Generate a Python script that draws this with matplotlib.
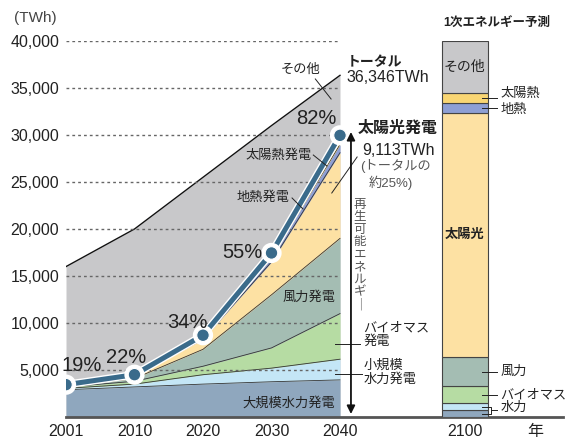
import numpy as np
import matplotlib.pyplot as plt
import matplotlib.patheffects as pe

plt.rcParams['font.family'] = ['Liberation Sans', 'Noto Sans CJK JP', 'DejaVu Sans']

years = ['2001', '2010', '2020', '2030', '2040']
total = [16000, 20000, 25500, 31000, 36346]

# generation by source, TWh
large_hydro = [2900, 3200, 3500, 3750, 3950]
small_hydro = [150, 300, 1000, 1450, 2200]
biomass = [150, 300, 900, 2150, 4850]
wind = [50, 300, 1800, 5650, 8000]
solar_pv = [30, 200, 1100, 3500, 9113]
geothermal = [80, 100, 200, 450, 900]
solar_thermal = [80, 100, 200, 500, 950]
renew_share = ['19%', '22%', '34%', '55%', '82%']

# 2100 primary energy mix, percent (bottom to top)
mix_names = ['水力(大)', '水力(小)', 'バイオマス', '風力', '太陽光', '地熱', '太陽熱', 'その他']
mix_share = [1.8, 1.8, 4.6, 7.8, 64.9, 2.5, 2.7, 13.9]

layers = [large_hydro, small_hydro, biomass, wind, solar_pv, geothermal, solar_thermal]
colors = ['#8fa7be', '#c4e6f6', '#b6dca3', '#a4bdb3', '#fde1a3', '#8e9fd4', '#f9d673']
c_other = '#c8c8ca'
c_line = '#3a6b8b'
ink = '#222222'

fig = plt.figure(figsize=(5.73, 4.44), dpi=100)
ax = fig.add_axes([66 / 573, 1 - 417 / 444, 497 / 573, 376 / 444])
x = np.arange(len(years))

ax.fill_between(x, 0, total, color=c_other, lw=0, zorder=1)
ax.plot(x, total, color='#111111', lw=1.0, zorder=4)
base = np.zeros(len(years))
for vals, col in zip(layers, colors):
    top = base + np.array(vals)
    ax.fill_between(x, base, top, color=col, lw=0, zorder=2)
    ax.plot(x, top, color='#333333', lw=0.6, zorder=3)
    base = top
renew = base

# dotted guide lines stop at 2040
for yv in range(5000, 40001, 5000):
    ax.plot([0, 4], [yv, yv], color='#666666', lw=1.0, ls=(0, (2, 2.2)), zorder=5)

ax.plot(x, renew, color=c_line, lw=3.6, marker='o', ms=9, mfc=c_line,
        mec='white', mew=0.8, zorder=7, solid_capstyle='round',
        path_effects=[pe.Stroke(linewidth=5.6, foreground='white'), pe.Normal()])

ax.set_xlim(0, 497 / 68.5)
ax.set_ylim(0, 40000)
ax.set_yticks(range(5000, 40001, 5000))
ax.set_yticklabels([f'{v:,}' for v in range(5000, 40001, 5000)], fontsize=11.5, color=ink)
ax.set_xticks(list(x) + [5.82, 6.85])
ax.set_xticklabels(years + ['2100', '年'], fontsize=11.5, color=ink)
ax.tick_params(length=0, pad=5)
for s in ['top', 'right', 'left']:
    ax.spines[s].set_visible(False)
ax.spines['bottom'].set_color('#555555')
ax.spines['bottom'].set_linewidth(2)
ax.spines['bottom'].set_zorder(10)
ax.set_facecolor('none')

ax.text(-0.45, 42450, '(TWh)', fontsize=11, color='#444444', ha='center', va='center')

# share labels
share_pos = [(0.23, 5530), (0.88, 6380), (1.77, 10100), (2.57, 17550), (3.66, 31800)]
for lbl, (px_, py_) in zip(renew_share, share_pos):
    ax.text(px_, py_, lbl, fontsize=14.5, color=ink, ha='center', va='center', zorder=8)

kw = dict(fontsize=9.5, color=ink, zorder=9)
ax.text(3.43, 36900, 'その他', ha='center', va='center', **kw)
ax.plot([3.64, 3.87], [35960, 33830], color=ink, lw=0.7, zorder=9)
ax.text(4.10, 37770, 'トータル', ha='left', va='center', fontsize=10, color=ink, weight='bold')
ax.text(4.10, 36170, '36,346TWh', ha='left', va='center', fontsize=11.5, color=ink)
ax.text(3.59, 27770, '太陽熱発電', ha='right', va='center', **kw)
ax.plot([3.61, 3.81], [27870, 26700], color=ink, lw=0.7, zorder=9)
ax.text(3.27, 23300, '地熱発電', ha='right', va='center', **kw)
ax.plot([3.30, 3.46], [23300, 22130], color=ink, lw=0.7, zorder=9)
ax.text(3.55, 12660, '風力発電', ha='center', va='center', **kw)
ax.text(3.26, 1490, '大規模水力発電', ha='center', va='center', **kw)

ax.text(4.26, 30740, '太陽光発電', ha='left', va='center', fontsize=11.5, color=ink, weight='bold')
ax.text(4.32, 28400, '9,113TWh', ha='left', va='center', fontsize=11.5, color=ink)
ax.text(4.30, 26700, '(トータルの', ha='left', va='center', fontsize=9.5, color='#555555')
ax.text(4.42, 24900, '約25%)', ha='left', va='center', fontsize=9.5, color='#555555')
ax.plot([4.25, 3.88], [27660, 23830], color=ink, lw=0.7, zorder=9)

ax.text(4.34, 9470, 'バイオマス', ha='left', va='center', **kw)
ax.text(4.34, 7980, '発電', ha='left', va='center', **kw)
ax.plot([3.93, 4.29], [7770, 7770], color=ink, lw=0.7, zorder=9)
ax.text(4.34, 5430, '小規模', ha='left', va='center', **kw)
ax.text(4.34, 3940, '水力発電', ha='left', va='center', **kw)
ax.plot([3.93, 4.32], [4575, 4575], color=ink, lw=0.7, zorder=9)

ax.annotate('', xy=(4.16, 30320), xytext=(4.16, 320),
            arrowprops=dict(arrowstyle='<|-|>', color='#111111', lw=1.3,
                            mutation_scale=12, shrinkA=0, shrinkB=0), zorder=9)
ax.text(4.29, 17230, '\n'.join('再生可能エネルギ') + '\n｜', ha='center', va='center',
        fontsize=9, color='#555555', linespacing=1.05, zorder=9)

# 2100 bar on a percent scale
axb = ax.twinx()
axb.set_ylim(0, 100)
axb.axis('off')
bar_cols = [colors[0], colors[1], colors[2], colors[3], colors[4], colors[5], colors[6], c_other]
bottom = np.concatenate([[0], np.cumsum(mix_share)[:-1]])
axb.bar(5.82, mix_share, width=0.67, bottom=bottom, color=bar_cols,
        edgecolor='#444444', linewidth=0.8, zorder=3)
mid = bottom + np.array(mix_share) / 2
axb.text(5.82, mid[7], 'その他', ha='center', va='center', fontsize=10, color=ink, zorder=9)
axb.text(5.82, mid[4], '太陽光', ha='center', va='center', fontsize=9.5, color=ink, weight='bold', zorder=9)
label_y = {6: mid[6] + 1.2, 5: mid[5] - 0.4, 3: mid[3], 2: mid[2] - 0.3}
for i, name in [(6, '太陽熱'), (5, '地熱'), (3, '風力'), (2, 'バイオマス')]:
    axb.plot([6.07, 6.29], [mid[i], mid[i]], color=ink, lw=0.7, zorder=9)
    axb.text(6.34, label_y[i], name, ha='left', va='center', **kw)
axb.plot([6.07, 6.20, 6.20, 6.07], [mid[1], mid[1], mid[0], mid[0]], color=ink, lw=0.7, zorder=9)
axb.plot([6.20, 6.29], [(mid[0] + mid[1]) / 2] * 2, color=ink, lw=0.7, zorder=9)
axb.text(6.34, (mid[0] + mid[1]) / 2 + 0.6, '水力', ha='left', va='center', **kw)
axb.text(6.29, 104.8, '1次エネルギー予測', ha='center', va='center', fontsize=9,
         color=ink, weight='bold')

fig.savefig('out.png', dpi=100)
